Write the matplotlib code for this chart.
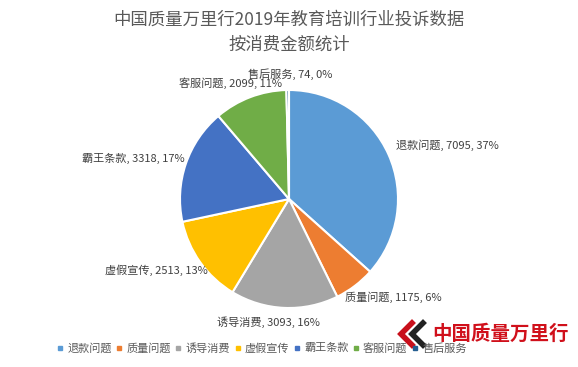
import matplotlib.pyplot as plt
from matplotlib.lines import Line2D

plt.rcParams['font.family'] = ['Noto Sans CJK SC', 'DejaVu Sans']

categories = ["退款问题", "质量问题", "诱导消费", "虚假宣传", "霸王条款", "客服问题", "售后服务"]
values = [7095, 1175, 3093, 2513, 3318, 2099, 74]
percents = [37, 6, 16, 13, 17, 11, 0]
colors = ["#5B9BD5", "#ED7D31", "#A5A5A5", "#FFC000", "#4472C4", "#70AD47", "#255E91"]

# label anchors in pixel coords (x, y from top), ha
label_pos = [(396, 145, "left"), (345, 297, "left"), (268, 322, "center"),
             (208, 270, "right"), (185, 158, "right"), (282, 83, "right"),
             (248, 74, "left")]

W, H = 578, 367
fig = plt.figure(figsize=(W / 100, H / 100), dpi=100)
ax = fig.add_axes([0, 0, 1, 1])

ax.pie(values, colors=colors, startangle=90, counterclock=False,
       center=(289, H - 199), radius=109, frame=True,
       wedgeprops=dict(edgecolor="white", linewidth=1.5))
ax.set_xlim(0, W)
ax.set_ylim(0, H)
ax.axis("off")

for cat, v, p, (x, y, ha) in zip(categories, values, percents, label_pos):
    ax.text(x, H - y, f"{cat}, {v}, {p}%", ha=ha, va="center",
            fontsize=8, color="#404040")

fig.text(0.5, 1 - 20 / H, "中国质量万里行2019年教育培训行业投诉数据", ha="center",
         va="center", fontsize=12.5, color="#595959")
fig.text(0.5, 1 - 45 / H, "按消费金额统计", ha="center", va="center",
         fontsize=12.5, color="#595959")

handles = [Line2D([], [], marker="s", linestyle="none", markersize=3.5,
                  markerfacecolor=c, markeredgecolor=c) for c in colors]
leg = fig.legend(handles, categories, loc="center", bbox_to_anchor=(262 / W, 1 - 348 / H),
                 ncol=7, frameon=False, fontsize=8, handlelength=0.5,
                 handletextpad=0.4, columnspacing=0.42, labelcolor="#595959")
leg.set_zorder(1)

# watermark
fig.text(500 / W, 1 - 334 / H, "中国质量万里行", ha="center", va="center",
         fontsize=14, color="#D0101B", fontweight="bold", zorder=5)
ax.plot([412, 401, 412], [H - 323, H - 334, H - 345], color="#C8101B", lw=4,
        solid_joinstyle="miter")
ax.plot([423, 412, 423], [H - 323, H - 334, H - 345], color="#222222", lw=4,
        solid_joinstyle="miter")

fig.savefig("out.png", dpi=100)
